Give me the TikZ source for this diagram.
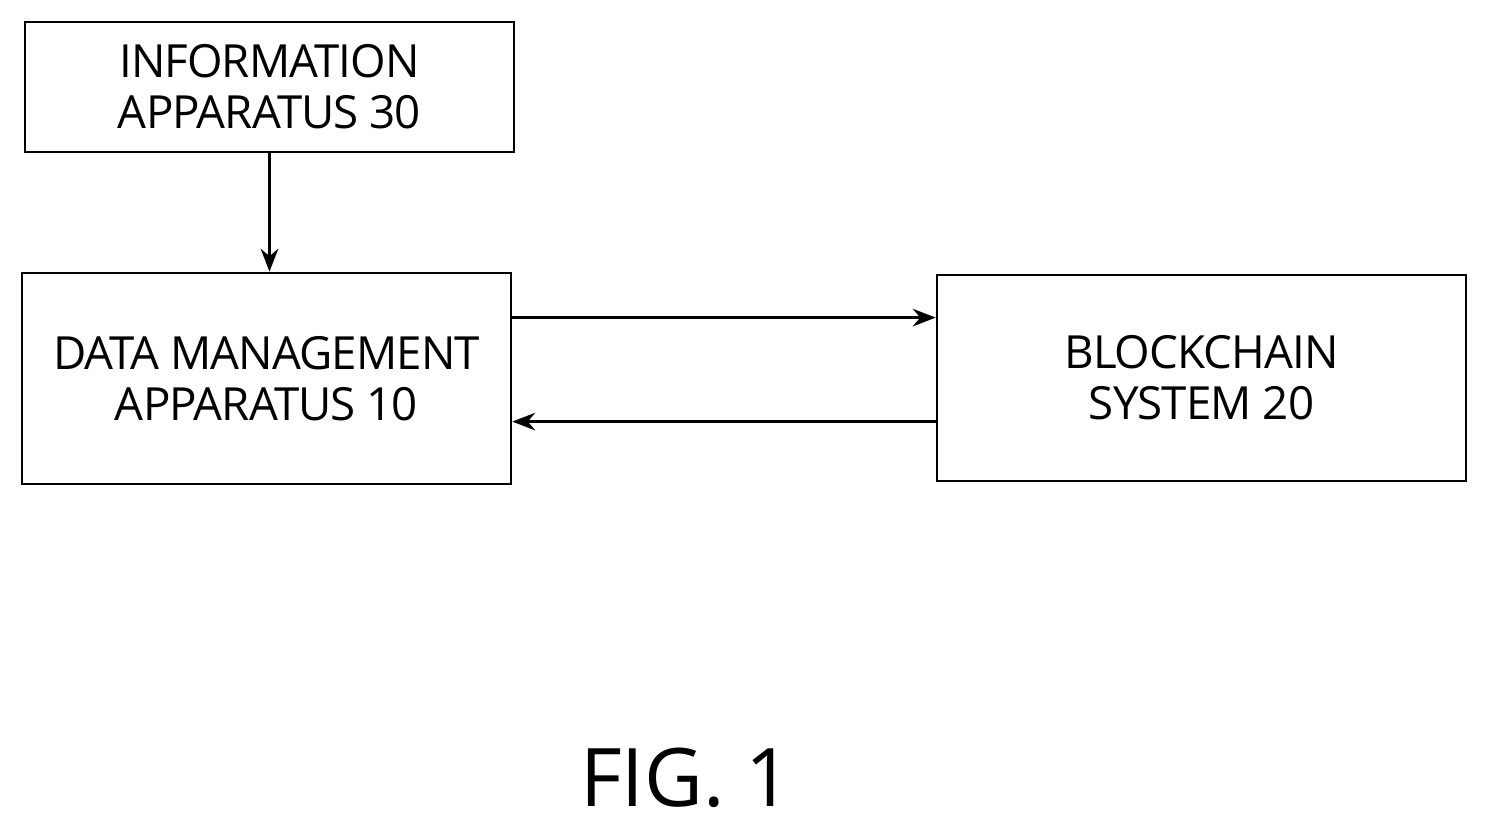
\documentclass[tikz,border=0pt]{standalone}
\usepackage{fontspec}
\setmainfont{Open Sans}
\usetikzlibrary{positioning, arrows.meta}
\begin{document}
\begin{tikzpicture}[
    x=0.02cm, y=-0.02cm,
    block/.style={rectangle, draw, line width=1.6pt, align=center, inner sep=0pt, font=\fontsize{26}{29}\selectfont\addfontfeature{LetterSpace=-2}},
    arrow/.style={-{Stealth[length=13pt,width=10pt]}, line width=1.6pt}
]
\useasboundingbox (0,0) rectangle (1488,828);

% Blocks
\node[block, minimum width=9.78cm, minimum height=2.6cm] (info) at (269.5,87) {INFORMATION\\APPARATUS 30};
\node[block, minimum width=9.78cm, minimum height=4.22cm] (dm) at (266.5,378.5) {DATA MANAGEMENT\\APPARATUS 10};
\node[block, minimum width=10.58cm, minimum height=4.12cm] (bc) at (1201.5,378) {BLOCKCHAIN\\SYSTEM 20};
\node[font=\fontsize{46}{46}\selectfont] (fig) at (686,778) {FIG. 1};

% Arrows
\draw[arrow] (info.south) -- (info.south |- dm.north);
\draw[arrow] ([yshift=-0.92cm]dm.north east) -- ([yshift=-0.92cm]dm.north east -| bc.west);
\draw[arrow] ([yshift=-3.0cm]dm.north east -| bc.west) -- ([yshift=-3.0cm]dm.north east);

\end{tikzpicture}
\end{document}
